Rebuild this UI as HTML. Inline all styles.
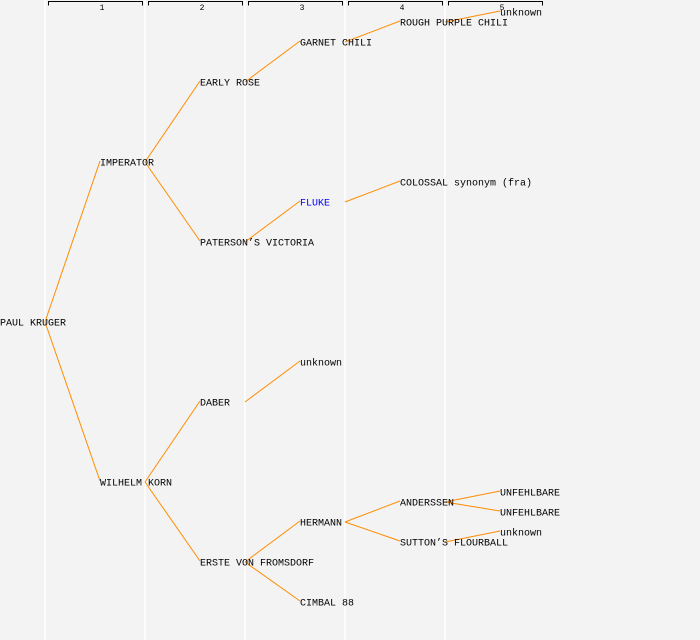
<!DOCTYPE html>
<html><head><style>
html,body{margin:0;padding:0;background:#f3f3f3;}
svg{display:block}
text{font-family:"Liberation Mono",monospace;font-size:10px;fill:#000}
</style></head><body>
<svg width="700" height="640" viewBox="0 0 700 640">
<rect width="700" height="640" fill="#f3f3f3"/>
<g stroke="#fff" stroke-width="1.5">
<line x1="45" y1="0" x2="45" y2="640"/><line x1="145" y1="0" x2="145" y2="640"/><line x1="245" y1="0" x2="245" y2="640"/><line x1="345" y1="0" x2="345" y2="640"/><line x1="445" y1="0" x2="445" y2="640"/>
</g>
<g stroke="#000" fill="none" stroke-width="1">
<path d="M48.5 5.5V1.5H142.5V5.5"/><path d="M148.5 5.5V1.5H242.5V5.5"/><path d="M248.5 5.5V1.5H342.5V5.5"/><path d="M348.5 5.5V1.5H442.5V5.5"/><path d="M448.5 5.5V1.5H542.5V5.5"/>
</g>
<g style="font-size:8px" text-anchor="middle">
<text x="102" y="10" style="font-size:8px">1</text><text x="202" y="10" style="font-size:8px">2</text><text x="302" y="10" style="font-size:8px">3</text><text x="402" y="10" style="font-size:8px">4</text><text x="502" y="10" style="font-size:8px">5</text>
</g>
<g stroke="#ff8c00" stroke-width="1" fill="none">
<line x1="45" y1="322" x2="100" y2="161"/><line x1="45" y1="322" x2="100" y2="481"/>
<line x1="145" y1="162" x2="200" y2="81"/><line x1="145" y1="162" x2="200" y2="241"/>
<line x1="145" y1="482" x2="200" y2="401"/><line x1="145" y1="482" x2="200" y2="561"/>
<line x1="245" y1="82" x2="300" y2="41"/><line x1="245" y1="242" x2="300" y2="201"/>
<line x1="245" y1="402" x2="300" y2="361"/><line x1="245" y1="562" x2="300" y2="521"/><line x1="245" y1="562" x2="300" y2="601"/>
<line x1="345" y1="42" x2="400" y2="21"/><line x1="345" y1="202" x2="400" y2="181"/>
<line x1="345" y1="522" x2="400" y2="501"/><line x1="345" y1="522" x2="400" y2="541"/>
<line x1="445" y1="22" x2="500" y2="11"/><line x1="445" y1="502" x2="500" y2="491"/><line x1="445" y1="502" x2="500" y2="511"/><line x1="445" y1="542" x2="500" y2="531"/>
</g>
<g dominant-baseline="middle">
<text x="0" y="323">PAUL KRUGER</text>
<text x="100" y="163">IMPERATOR</text>
<text x="100" y="483">WILHELM KORN</text>
<text x="200" y="83">EARLY ROSE</text>
<text x="200" y="243">PATERSON’S VICTORIA</text>
<text x="200" y="403">DABER</text>
<text x="200" y="563">ERSTE VON FROMSDORF</text>
<text x="300" y="43">GARNET CHILI</text>
<text x="300" y="203" style="fill:#0000ff">FLUKE</text>
<text x="300" y="363">unknown</text>
<text x="300" y="523">HERMANN</text>
<text x="300" y="603">CIMBAL 88</text>
<text x="400" y="23">ROUGH PURPLE CHILI</text>
<text x="400" y="183">COLOSSAL synonym (fra)</text>
<text x="400" y="503">ANDERSSEN</text>
<text x="400" y="543">SUTTON’S FLOURBALL</text>
<text x="500" y="13">unknown</text>
<text x="500" y="493">UNFEHLBARE</text>
<text x="500" y="513">UNFEHLBARE</text>
<text x="500" y="533">unknown</text>
</g>
</svg>
</body></html>
